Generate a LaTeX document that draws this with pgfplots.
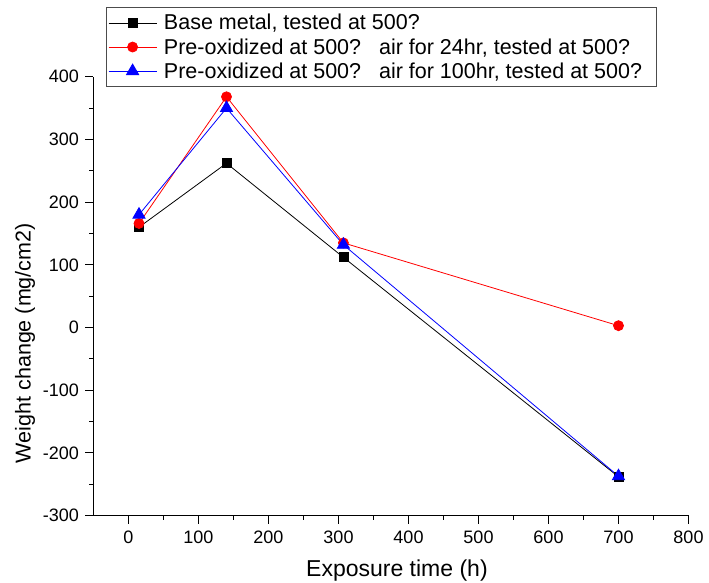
\documentclass[border=0pt]{standalone}
\usepackage{fontspec}
\setmainfont{Liberation Sans}
\usepackage{pgfplots}
\pgfplotsset{compat=1.18}
\begin{document}
\begin{tikzpicture}
\useasboundingbox (-93.5pt,-66.3pt) rectangle (615.5pt,515.7pt);
\begin{axis}[
  width=595pt, height=439pt, scale only axis,
  xmin=-50, xmax=800, ymin=-300, ymax=400,
  axis lines*=left,
  axis line style={line width=1pt},
  xtick={0,100,...,800}, minor xtick={50,150,...,750},
  ytick={-300,-200,...,400}, minor ytick={-250,-150,...,350},
  tick align=outside,
  major tick length=8pt, minor tick length=4pt,
  every tick/.style={black, line width=1pt},
  tick label style={font=\fontsize{18}{21}\selectfont},
  xticklabel style={yshift=-4pt},
  yticklabel style={xshift=-3pt},
  /pgf/number format/assume math mode=true,
  xlabel={Exposure time (h)},
  ylabel={Weight change (mg/cm2)},
  xlabel style={font=\fontsize{23}{27}\selectfont,
    at={(axis description cs:0.51,-0.124)}, anchor=center},
  ylabel style={font=\fontsize{21.5}{25}\selectfont,
    at={(axis description cs:-0.115,0.393)}, anchor=center},
  clip=false,
  legend image code/.code={\draw[mark repeat=2,mark phase=2] plot coordinates {(0pt,0pt) (24pt,0pt) (48pt,0pt)};},
  legend cell align=left,
  legend style={at={(rel axis cs:0,1)}, anchor=north west, xshift=12.5pt, yshift=69.5pt,
    draw=black!70, font=\fontsize{21.5}{25}\selectfont,
    inner xsep=2pt, inner ysep=5pt, row sep=3pt, column sep=5pt},
]
\addplot[black, line width=0.8pt, mark=square*, mark size=4.5pt]
  coordinates {(15,160) (140,262) (307,112) (700,-238)};
\addlegendentry{Base metal, tested at 500?}
\addplot[red, line width=0.8pt, mark=*, mark size=5pt]
  coordinates {(15,166) (140,368) (307,135) (700,3)};
\addlegendentry{Pre-oxidized at 500?\ \ \ air for 24hr, tested at 500?}
\addplot[blue, line width=0.8pt, mark=triangle*, mark size=7pt]
  coordinates {(15,180) (140,350) (307,132) (700,-237)};
\addlegendentry{Pre-oxidized at 500?\ \ \ air for 100hr, tested at 500?\hspace*{10pt}}
\end{axis}
\end{tikzpicture}
\end{document}
